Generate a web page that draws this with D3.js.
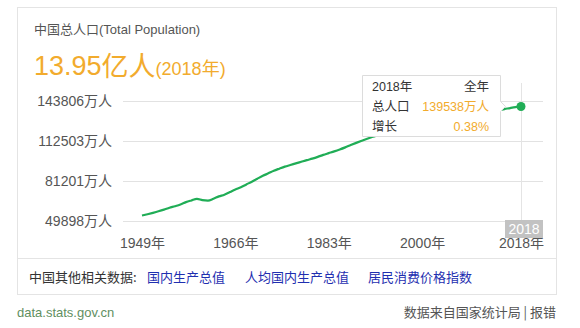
<!DOCTYPE html>
<html>
<head>
<meta charset="utf-8">
<script src="https://cdn.jsdelivr.net/npm/d3@7"></script>
<style>
  html, body { margin: 0; padding: 0; background: #fff; }
  svg { display: block; font-family: "Liberation Sans", Arial, "Noto Sans CJK SC", sans-serif; }
</style>
</head>
<body>
<svg id="chart" width="580" height="328"></svg>
<script>
// China year-end total population, 10k persons (万人)
const years = [1949,1950,1951,1952,1953,1954,1955,1956,1957,1958,1959,1960,1961,1962,1963,1964,1965,1966,1967,1968,
  1969,1970,1971,1972,1973,1974,1975,1976,1977,1978,1979,1980,1981,1982,1983,1984,1985,1986,1987,1988,
  1989,1990,1991,1992,1993,1994,1995,1996,1997,1998,1999,2000,2001,2002,2003,2004,2005,2006,2007,2008,
  2009,2010,2011,2012,2013,2014,2015,2016,2017,2018];
const population = [54167,55196,56300,57482,58796,60266,61465,62828,64653,65994,67207,66207,65859,67295,69172,70499,72538,74542,76368,78534,
  80671,82992,85229,87177,89211,90859,92420,93717,94974,96259,97542,98705,100072,101654,103008,104357,105851,107507,109300,111026,
  112704,114333,115823,117171,118517,119850,121121,122389,123626,124761,125786,126743,127627,128453,129227,129988,130756,131448,132129,132802,
  133450,134091,134735,135404,136072,136782,137462,138271,139008,139538];
const yTicks = [49898, 81201, 112503, 143806];
const xTicks = [1949, 1966, 1983, 2000, 2018];
const headlineValue = "13.95";
const headlineYear = 2018;
const growthRate = "0.38%";
const relatedLinks = ["国内生产总值", "人均国内生产总值", "居民消费价格指数"];

const svg = d3.select("#chart");
const CJK = '"Noto Sans CJK SC", sans-serif';
const MIXED = '"Liberation Sans", Arial, "Noto Sans CJK SC", sans-serif';

// card frame
svg.append("rect").attr("x", 17.5).attr("y", 7.5).attr("width", 539).attr("height", 287)
  .attr("fill", "#fff").attr("stroke", "#e4e4e4");
svg.append("line").attr("x1", 17).attr("x2", 557).attr("y1", 258.5).attr("y2", 258.5)
  .attr("stroke", "#e4e4e4");

// title and headline
const title = svg.append("text").attr("x", 34).attr("y", 34).attr("font-size", 13).attr("fill", "#555");
title.append("tspan").attr("font-family", CJK).text("中国总人口");
title.append("tspan").text("(Total Population)");

const head = svg.append("text").attr("x", 34).attr("y", 75).attr("fill", "#f2ab2d");
head.append("tspan").attr("font-size", 27).text(headlineValue);
head.append("tspan").attr("font-size", 27).attr("font-family", CJK).attr("dy", 1).text("亿人");
head.append("tspan").attr("font-size", 18).attr("dy", -1).text("(" + headlineYear);
head.append("tspan").attr("font-size", 18).attr("font-family", CJK).text("年");
head.append("tspan").attr("font-size", 18).text(")");

// scales
const x = d3.scaleLinear().domain([1949, 2018]).range([142, 521]);
const y = d3.scaleLinear().domain([49898, 143806]).range([221, 101]);

// y gridlines + labels
const yAxis = d3.axisLeft(y).tickValues(yTicks).tickSize(-420).tickPadding(11)
  .tickFormat(d => d + "万人");
const gy = svg.append("g").attr("transform", "translate(123,0)").call(yAxis);
gy.select(".domain").remove();
gy.selectAll(".tick line").attr("stroke", "#e2e2e2").attr("shape-rendering", "crispEdges");
gy.selectAll(".tick text").attr("font-size", 14).attr("fill", "#555").attr("font-family", MIXED);

// x labels
const xAxis = d3.axisBottom(x).tickValues(xTicks).tickSize(0).tickPadding(10)
  .tickFormat(d => d + "年");
const gx = svg.append("g").attr("transform", "translate(0,228)").call(xAxis);
gx.select(".domain").remove();
gx.selectAll(".tick text").attr("font-size", 14).attr("fill", "#555").attr("font-family", MIXED);

// hover guide line
const lastIdx = years.length - 1;
const px = x(years[lastIdx]), py = y(population[lastIdx]);
svg.append("line").attr("x1", Math.round(px) + 0.5).attr("x2", Math.round(px) + 0.5)
  .attr("y1", 83).attr("y2", 228).attr("stroke", "#e4e4e4");

// population line
const line = d3.line().x((d, i) => x(years[i])).y(d => y(d)).curve(d3.curveMonotoneX);
svg.append("path").datum(population).attr("d", line)
  .attr("fill", "none").attr("stroke", "#20ad56").attr("stroke-width", 2.2);
svg.append("circle").attr("cx", px).attr("cy", py).attr("r", 4.5).attr("fill", "#20ad56");

// hover year badge, drawn over the last axis label
svg.append("rect").attr("x", 505).attr("y", 220).attr("width", 38).attr("height", 18)
  .attr("fill", "#c2c2c2");
svg.append("text").attr("x", 524).attr("y", 234).attr("text-anchor", "middle")
  .attr("font-size", 14).attr("fill", "#fff").text(years[lastIdx]);

// tooltip
const tx = 362, ty = 75, tw = 138, th = 61;
const ay = py;
svg.append("path")
  .attr("d", `M${tx + 0.5},${ty + 0.5}H${tx + tw + 0.5}V${ay - 5}L${tx + tw + 5.5},${ay}L${tx + tw + 0.5},${ay + 5}V${ty + th + 0.5}H${tx + 0.5}Z`)
  .attr("fill", "#fff").attr("stroke", "#dcdcdc");
const rows = [
  { l: years[lastIdx] + "年", r: "全年", rc: "#333" },
  { l: "总人口", r: population[lastIdx] + "万人", rc: "#f2ab2d" },
  { l: "增长", r: growthRate, rc: "#f2ab2d" }
];
rows.forEach((row, i) => {
  const yy = 91 + i * 20;
  svg.append("text").attr("x", 372).attr("y", yy).attr("font-size", 12.5).attr("fill", "#333")
    .attr("font-family", MIXED).text(row.l);
  svg.append("text").attr("x", 489).attr("y", yy).attr("text-anchor", "end").attr("font-size", 12.5)
    .attr("fill", row.rc).attr("font-family", MIXED).text(row.r);
});

// related data links
svg.append("text").attr("x", 29).attr("y", 282).attr("font-size", 13).attr("fill", "#333")
  .attr("font-family", CJK).text("中国其他相关数据:");
const linkX = [147, 245, 368];
relatedLinks.forEach((t, i) => {
  svg.append("text").attr("x", linkX[i]).attr("y", 282).attr("font-size", 13).attr("fill", "#1f2fb0")
    .attr("font-family", CJK).text(t);
});

// footer
svg.append("text").attr("x", 17).attr("y", 317).attr("font-size", 13).attr("fill", "#5f8f5f")
  .text("data.stats.gov.cn");
svg.append("text").attr("x", 556).attr("y", 317).attr("text-anchor", "end").attr("font-size", 13)
  .attr("fill", "#555").attr("font-family", CJK).text("数据来自国家统计局 | 报错");
</script>
</body>
</html>
